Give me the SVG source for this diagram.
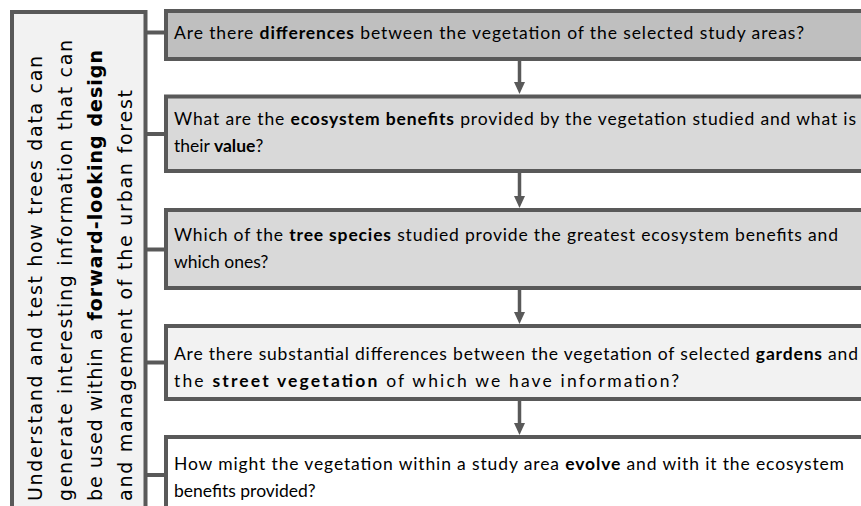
<svg xmlns="http://www.w3.org/2000/svg" width="861" height="506" viewBox="0 0 861 506">
<style>
.box{stroke:#595959;stroke-width:4}
.t{font-family:Lato,"Liberation Sans",sans-serif;font-size:17.5px;fill:#000}
.side{font-family:"DejaVu Sans",sans-serif;font-size:19px;fill:#000}
.b{font-weight:bold}
.conn{stroke:#595959;stroke-width:4;fill:none}
.arr{stroke:#595959;stroke-width:3.5;fill:none}
</style>
<defs>
<marker id="ah" markerUnits="userSpaceOnUse" markerWidth="12" markerHeight="12" refX="0" refY="6" orient="auto">
<path d="M0,0.5 L12,6 L0,11.5 z" fill="#595959"/>
</marker>
</defs>
<rect width="861" height="506" fill="#ffffff"/>

<g id="connectors">
<line class="conn" x1="147" y1="32.5" x2="164" y2="32.5"/>
<line class="conn" x1="147" y1="134" x2="164" y2="134"/>
<line class="conn" x1="147" y1="249.5" x2="164" y2="249.5"/>
<line class="conn" x1="147" y1="362.5" x2="164" y2="362.5"/>
<line class="conn" x1="147" y1="475" x2="164" y2="475"/>
<line class="arr" x1="519.5" y1="61" x2="519.5" y2="82" marker-end="url(#ah)"/>
<line class="arr" x1="519.5" y1="173" x2="519.5" y2="196" marker-end="url(#ah)"/>
<line class="arr" x1="519.5" y1="290" x2="519.5" y2="312" marker-end="url(#ah)"/>
<line class="arr" x1="519.5" y1="401" x2="519.5" y2="423" marker-end="url(#ah)"/>
</g>

<g id="goal">
<rect class="box" x="12" y="12" width="133.5" height="520" fill="#f2f2f2"/>
<g class="side" transform="rotate(-90)">
<text x="-501" y="42" textLength="445">Understand and test how trees data can</text>
<text x="-501" y="72" textLength="461">generate interesting information that can</text>
<text x="-501" y="102" textLength="451">be used within a <tspan class="b">forward-looking design</tspan></text>
<text x="-501" y="132" textLength="411">and management of the urban forest</text>
</g>
</g>

<g id="q1">
<rect class="box" x="166" y="11" width="720" height="48" fill="#bfbfbf"/>
<text class="t" x="174" y="38.5" textLength="630">Are there <tspan class="b">differences</tspan> between the vegetation of the selected study areas?</text>
</g>

<g id="q2">
<rect class="box" x="166" y="96.5" width="720" height="74.5" fill="#d9d9d9"/>
<text class="t" x="174" y="125" textLength="682">What are the <tspan class="b">ecosystem benefits</tspan> provided by the vegetation studied and what is</text>
<text class="t" x="174" y="152">their <tspan class="b">value</tspan>?</text>
</g>

<g id="q3">
<rect class="box" x="166" y="210" width="720" height="78" fill="#d9d9d9"/>
<text class="t" x="174" y="241" textLength="664">Which of the <tspan class="b">tree species</tspan> studied provide the greatest ecosystem benefits and</text>
<text class="t" x="174" y="268">which ones?</text>
</g>

<g id="q4">
<rect class="box" x="166" y="326" width="720" height="73" fill="#f2f2f2"/>
<text class="t" x="174" y="360" textLength="684">Are there substantial differences between the vegetation of selected <tspan class="b">gardens</tspan> and</text>
<text class="t" x="174" y="387" textLength="505">the <tspan class="b">street vegetation</tspan> of which we have information?</text>
</g>

<g id="q5">
<rect class="box" x="166" y="437" width="720" height="76" fill="#ffffff"/>
<text class="t" x="174" y="470" textLength="670">How might the vegetation within a study area <tspan class="b">evolve</tspan> and with it the ecosystem</text>
<text class="t" x="174" y="497">benefits provided?</text>
</g>
</svg>
